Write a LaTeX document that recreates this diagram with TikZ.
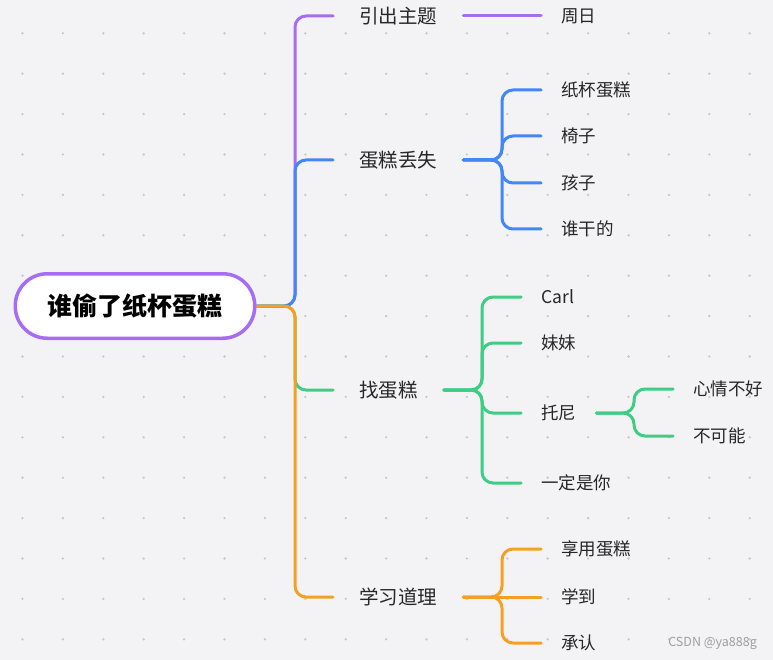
\documentclass[tikz,border=0pt]{standalone}
\usepackage{fontspec}
\setmainfont{Noto Sans CJK SC}
\usetikzlibrary{calc}
\pgfdeclarelayer{bgl}
\pgfdeclarelayer{lines}
\pgfsetlayers{bgl,lines,main}
\definecolor{bgc}{HTML}{F3F3F6}
\definecolor{dotc}{HTML}{C8C8CC}
\definecolor{cpur}{HTML}{A66CF2}
\definecolor{cblu}{HTML}{4286F7}
\definecolor{cgrn}{HTML}{3FCD83}
\definecolor{cora}{HTML}{F5A022}
\definecolor{txt}{HTML}{262626}
\tikzset{
  rootbox/.style={draw=cpur, line width=3.5pt, fill=white, rounded corners=32pt,
    minimum width=239.5pt, minimum height=64.5pt, inner sep=0pt,
    text=black, font=\bfseries\fontsize{25}{30}\selectfont},
  lvone/.style={anchor=west, inner xsep=26pt, inner ysep=2pt, text=txt,
    font=\fontsize{19.5}{23}\selectfont},
  lvtwo/.style={anchor=west, inner xsep=20pt, inner ysep=2pt, text=txt,
    font=\fontsize{17.5}{21}\selectfont},
  conn/.style={line width=3pt, line cap=round, rounded corners=11pt},
  wmark/.style={anchor=east, inner sep=0pt, text=black!38, font=\fontsize{12.5}{15}\selectfont}
}
\begin{document}
\begin{tikzpicture}[x=1pt,y=-1pt]
\useasboundingbox (0,0) rectangle (773,660);
\begin{pgfonlayer}{bgl}
  \fill[bgc] (0,0) rectangle (773,660);
  \foreach \i in {0,...,18} \foreach \j in {0,...,15}
    \fill[dotc] (22.5+40.4*\i, 33.3+40.4*\j) circle (1.3pt);
\end{pgfonlayer}

% root
\node[rootbox] (root) at (135,306) {谁偷了纸杯蛋糕};

% trunk and branch columns
\coordinate (trunk) at (295,0);
\coordinate (bv) at (502,0);
\coordinate (gv) at (482,0);
\coordinate (tv) at (634,0);
\coordinate (ov) at (502,0);

% level one
\node[lvone] (t1) at (333,16) {引出主题};
\node[lvone] (t2) at (333,160) {蛋糕丢失};
\node[lvone] (t3) at (333,390) {找蛋糕};
\node[lvone] (t4) at (333,597) {学习道理};

% level two
\node[lvtwo] (p1) at (541,16) {周日};

\node[lvtwo] (b1) at (541,90) {纸杯蛋糕};
\node[lvtwo] (b2) at (541,136) {椅子};
\node[lvtwo] (b3) at (541,183) {孩子};
\node[lvtwo] (b4) at (541,229) {谁干的};

\node[lvtwo] (g1) at (521,297) {Carl};
\node[lvtwo] (g2) at (521,343) {妹妹};
\node[lvtwo] (g3) at (521,413) {托尼};
\node[lvtwo] (g4) at (521,483) {一定是你};

\node[lvtwo] (h1) at (673,389) {心情不好};
\node[lvtwo] (h2) at (673,436) {不可能};

\node[lvtwo] (o1) at (541,549) {享用蛋糕};
\node[lvtwo] (o2) at (541,597) {学到};
\node[lvtwo] (o3) at (541,643) {承认};

\node[wmark] (wm) at (757,643) {CSDN @ya888g};

\begin{pgfonlayer}{lines}
  % root to level one
  \draw[conn, cpur] (root.east) -- (root.east -| trunk) |- (t1.west);
  \draw[conn, cblu] (root.east) -- (root.east -| trunk) |- (t2.west);
  \draw[conn, cgrn] (root.east) -- (root.east -| trunk) |- (t3.west);
  \draw[conn, cora] (root.east) -- (root.east -| trunk) |- (t4.west);
  % purple
  \draw[conn, cpur] (t1.east) -- (p1.west);
  % blue
  \foreach \c in {b1,b2,b3,b4}
    \draw[conn, cblu] (t2.east) -- (t2.east -| bv) |- (\c.west);
  % green
  \foreach \c in {g1,g2,g3,g4}
    \draw[conn, cgrn] (t3.east) -- (t3.east -| gv) |- (\c.west);
  \foreach \c in {h1,h2}
    \draw[conn, cgrn] (g3.east) -- (g3.east -| tv) |- (\c.west);
  % orange
  \draw[conn, cora] (t4.east) -- (t4.east -| ov) |- (o1.west);
  \draw[conn, cora] (t4.east) -- (o2.west);
  \draw[conn, cora] (t4.east) -- (t4.east -| ov) |- (o3.west);
\end{pgfonlayer}
\end{tikzpicture}
\end{document}
